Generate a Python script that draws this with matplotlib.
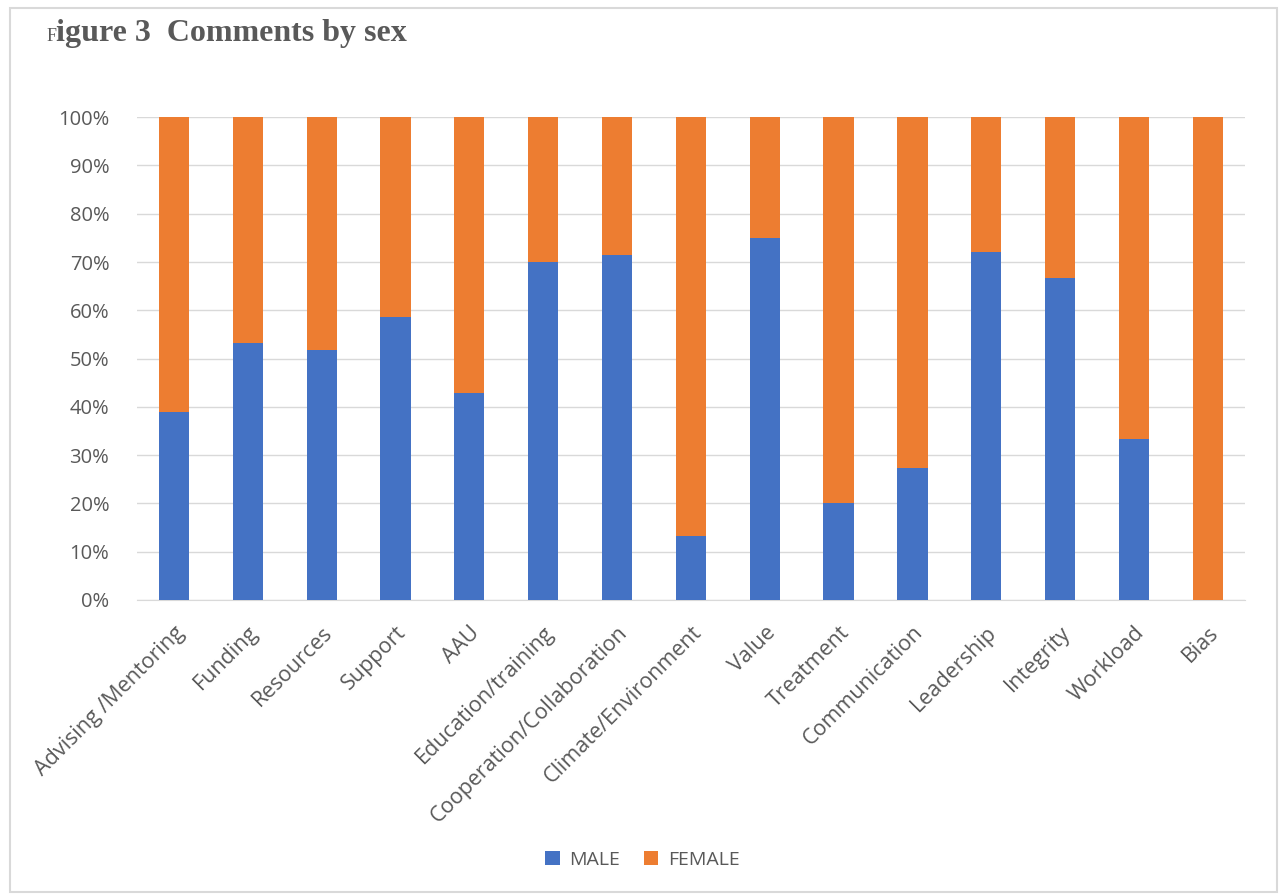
import matplotlib
matplotlib.use("Agg")
import matplotlib.pyplot as plt
from matplotlib.patches import Rectangle
from matplotlib.ticker import PercentFormatter
import numpy as np

categories = ["Advising /Mentoring", "Funding", "Resources", "Support", "AAU",
              "Education/training", "Cooperation/Collaboration", "Climate/Environment",
              "Value", "Treatment", "Communication", "Leadership", "Integrity",
              "Workload", "Bias"]
male = [38.9, 53.2, 51.8, 58.6, 42.9, 70.0, 71.4, 13.3, 75.0, 20.0, 27.3, 72.0, 66.7, 33.3, 0.0]
female = [100 - m for m in male]

plt.rcParams['font.family'] = ['Open Sans', 'DejaVu Sans']
gray = '#595959'

fig = plt.figure(figsize=(12.82, 8.94), dpi=100)
ax = fig.add_axes([0.1069, 0.3289, 0.864, 0.540])

x = np.arange(len(categories))
h_male = ax.bar(x, male, width=0.41, color='#4472C4', label='MALE', zorder=3)
h_female = ax.bar(x, female, width=0.41, bottom=male, color='#ED7D31', label='FEMALE', zorder=3)

ax.set_xlim(-0.5, len(categories) - 0.5)
ax.set_ylim(0, 100)
ax.set_yticks(np.arange(0, 101, 10))
ax.yaxis.set_major_formatter(PercentFormatter(decimals=0))
ax.grid(axis='y', color='#D9D9D9', linewidth=1, zorder=0)
for s in ['top', 'right', 'left']:
    ax.spines[s].set_visible(False)
ax.spines['bottom'].set_color('#D9D9D9')
ax.tick_params(axis='both', length=0, colors=gray)
ax.tick_params(axis='y', pad=20, labelsize=14.5)
ax.set_xticks(x)
ax.set_xticklabels(categories, rotation=45, ha='right', rotation_mode='anchor')
ax.tick_params(axis='x', pad=16, labelsize=15.5)

fig.legend(handles=[h_male, h_female], labels=['MALE', 'FEMALE'],
           loc='center', bbox_to_anchor=(0.501, 1 - 860 / 894), ncol=2, frameon=False,
           fontsize=14, labelcolor=gray, handlelength=0.75, handleheight=0.75,
           columnspacing=1.2, handletextpad=0.5)

fig.text(47 / 1282, 1 - 41 / 894, "F", fontsize=13, fontweight='normal',
         family='Liberation Serif', color=gray, va='baseline', ha='left')
fig.text(56 / 1282, 1 - 41 / 894, "igure 3  Comments by sex", fontsize=23, fontweight='bold',
         family='Liberation Serif', color=gray, va='baseline', ha='left')

fig.patches.append(Rectangle((10 / 1282, 2 / 894), 1267 / 1282, 884 / 894, transform=fig.transFigure,
                             fill=False, edgecolor='#D9D9D9', linewidth=1.5))

fig.savefig("out.png", dpi=100)
